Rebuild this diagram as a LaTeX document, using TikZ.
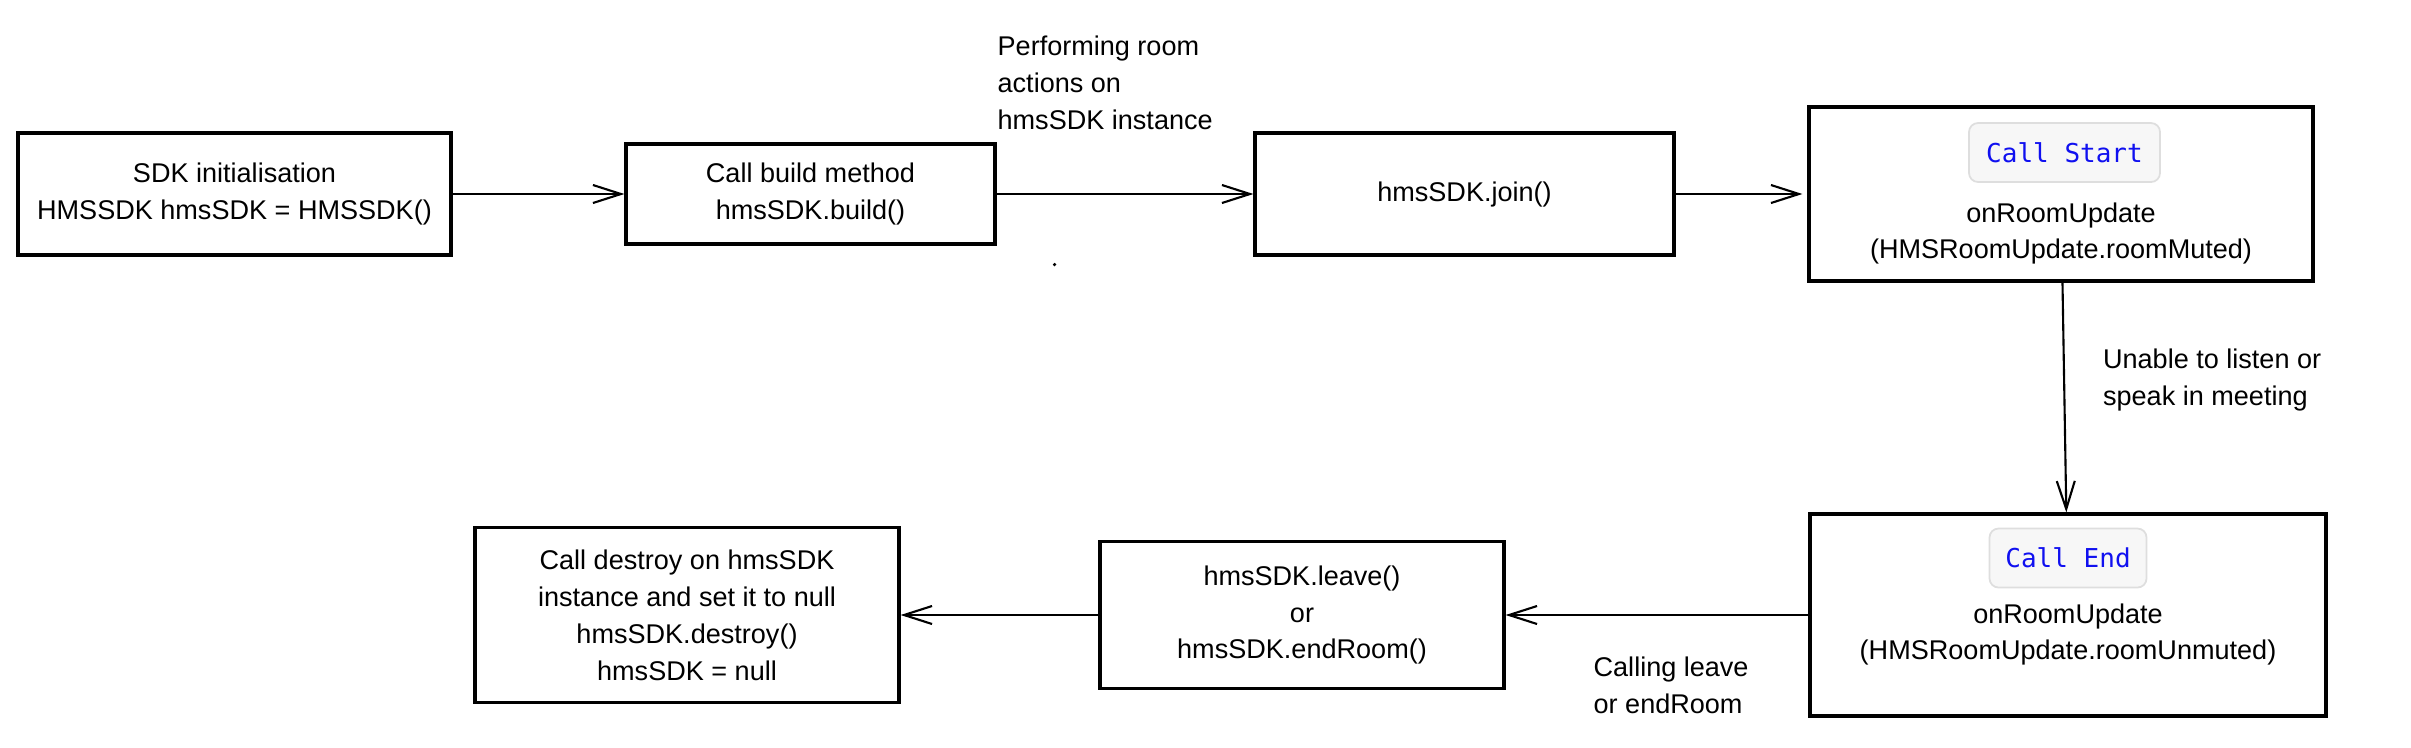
\documentclass[tikz,border=0pt]{standalone}
\usepackage{fontspec}
\setmainfont{Liberation Sans}
\setmonofont{DejaVu Sans Mono}
\usetikzlibrary{positioning,arrows.meta}
\definecolor{callblue}{RGB}{16,16,240}

\tikzstyle{block} = [draw, rectangle, line width=0.9pt, align=center, inner sep=2pt]
\tikzstyle{inout} = [rectangle, align=left, inner sep=0pt]
\tikzstyle{txt} = [rectangle, align=center, inner sep=0pt]
\tikzstyle{chip} = [draw=black!13, fill=black!3, line width=0.5pt, rounded corners=0.09cm, minimum height=0.59cm, text=callblue, font=\ttfamily\fontsize{7.4}{9}\selectfont]

\begin{document}
\begin{tikzpicture}[auto,node distance=1cm,
  font=\fontsize{7.7}{10.5}\selectfont,
  >={Straight Barb[length=2.8mm,width=1.8mm]}, line width=0.6pt]
  \useasboundingbox (0,0) rectangle (24.11,-7.47);

  % top row
  \node [block, minimum width=4.33cm, minimum height=1.22cm] (init) at (2.345,-1.94) {SDK initialisation\\HMSSDK hmsSDK = HMSSDK()};
  \node [block, right of=init, node distance=5.76cm, minimum width=3.69cm, minimum height=1cm] (build) {Call build method\\hmsSDK.build()};
  \node [block, right of=build, node distance=6.54cm, minimum width=4.19cm, minimum height=1.22cm] (join) {hmsSDK.join()};

  \node [block, right of=join, node distance=5.965cm, minimum width=5.04cm, minimum height=1.74cm] (start) {};
  \node [chip, above of=start, node distance=0.415cm, xshift=0.035cm, minimum width=1.91cm] (startchip) {Call Start};
  \node [txt, below of=start, node distance=0.395cm] (starttxt) {onRoomUpdate\\(HMSRoomUpdate.roomMuted)};

  % bottom row
  \node [block, below of=start, node distance=4.21cm, xshift=0.07cm, minimum width=5.16cm, minimum height=2.02cm] (stop) {};
  \node [chip, above of=stop, node distance=0.57cm, minimum width=1.57cm] (stopchip) {Call End};
  \node [txt, below of=stop, node distance=0.195cm] (stoptxt) {onRoomUpdate\\(HMSRoomUpdate.roomUnmuted)};

  \node [block, left of=stop, node distance=7.66cm, minimum width=4.04cm, minimum height=1.47cm] (leave) {hmsSDK.leave()\\or\\hmsSDK.endRoom()};
  \node [block, left of=leave, node distance=6.15cm, minimum width=4.24cm, minimum height=1.75cm] (destroy) {Call destroy on hmsSDK\\instance and set it to null\\hmsSDK.destroy()\\hmsSDK = null};

  % labels
  \node [inout, anchor=west] (perf) at ([yshift=1.11cm]build.east) {Performing room\\actions on\\hmsSDK instance};
  \node [inout, anchor=west] (mute) at ([xshift=0.41cm,yshift=-0.97cm]start.south) {Unable to listen or\\speak in meeting};
  \node [inout, anchor=west] (calling) at ([xshift=0.87cm,yshift=-0.705cm]leave.east) {Calling leave\\or endRoom};

  \coordinate (speck) at ([xshift=0.58cm,yshift=-0.19cm]build.south east);
  \fill (speck) circle (0.5pt);

  \draw [->] (init) -- (build);
  \draw [->] (build) -- (join);
  \draw [->, shorten >=0.05cm] (join) -- (start);
  \draw [->] (start) -- (stop);
  \draw [->] (stop) -- (leave);
  \draw [->] (leave) -- (destroy);
\end{tikzpicture}
\end{document}
